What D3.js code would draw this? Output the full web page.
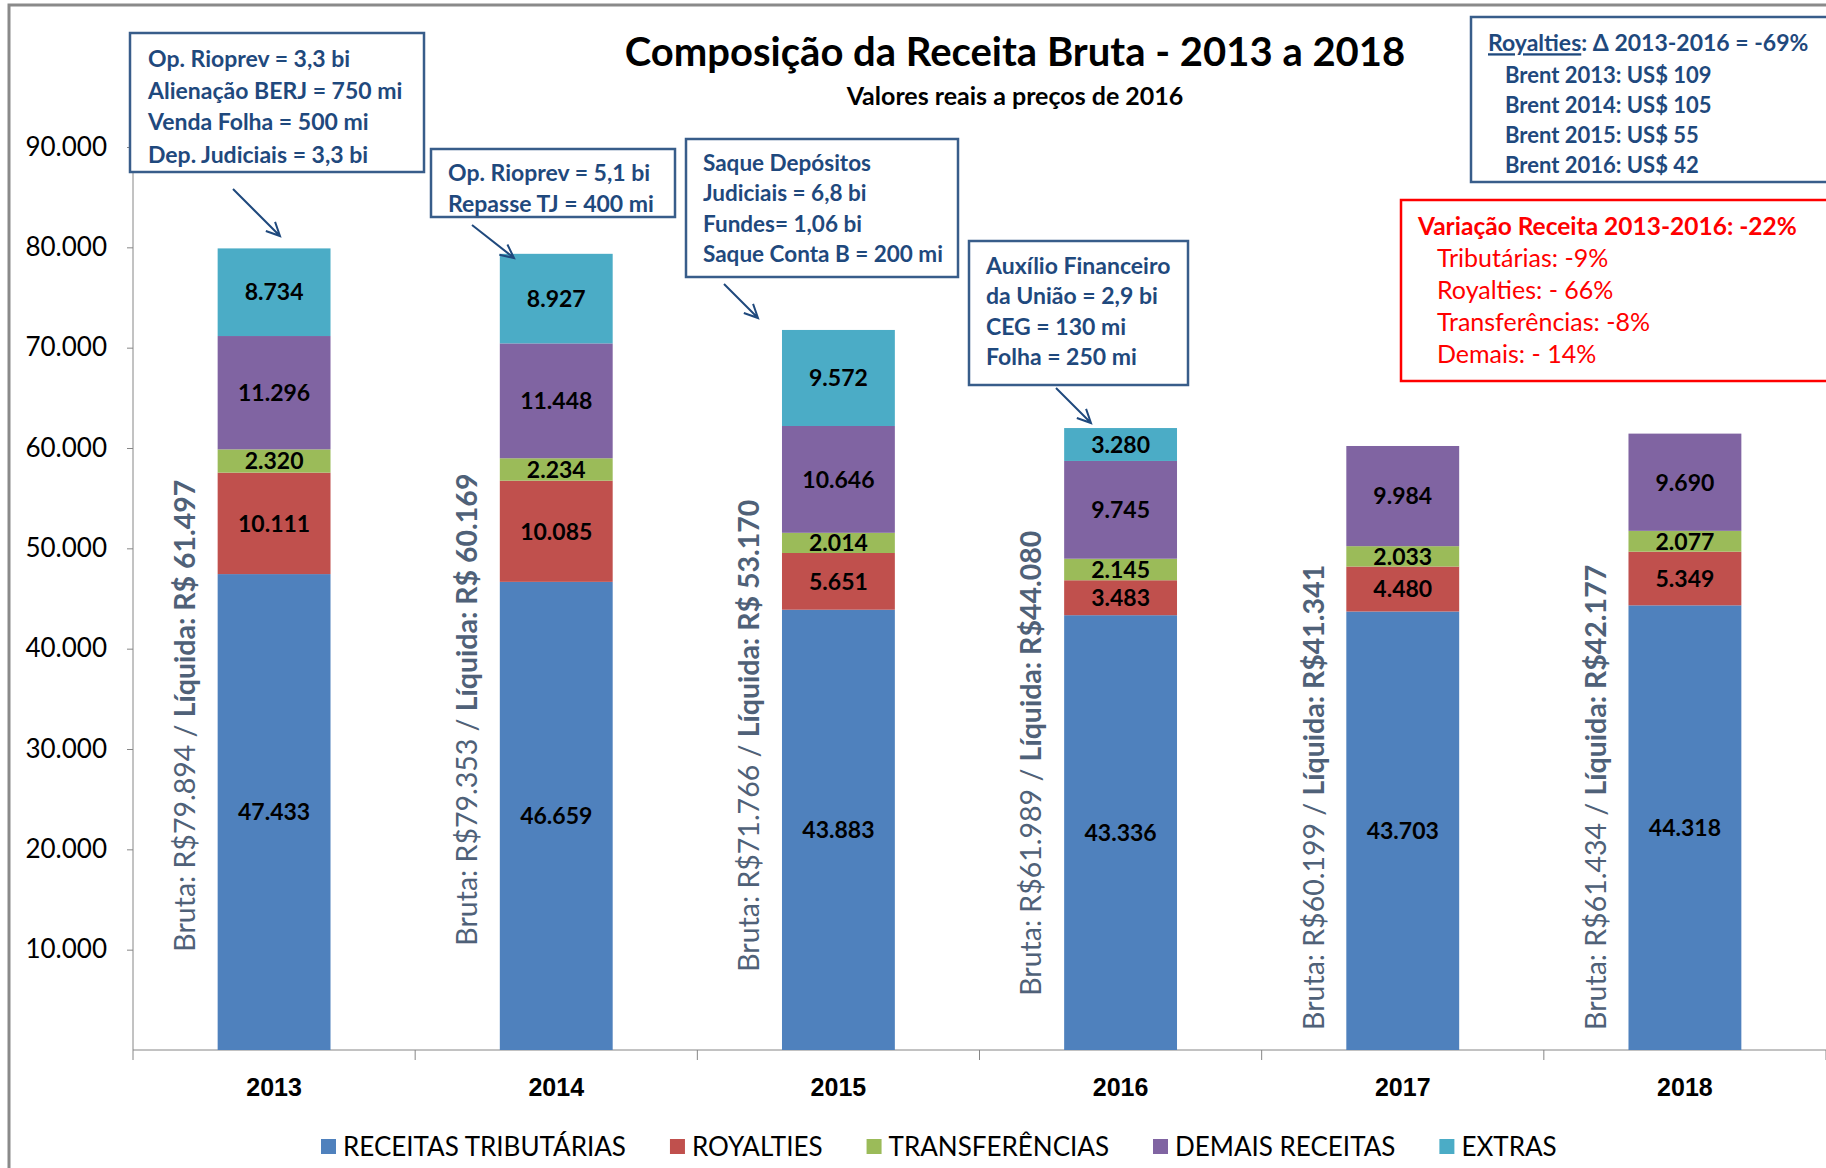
<!DOCTYPE html>
<html>
<head>
<meta charset="utf-8">
<script src="https://cdn.jsdelivr.net/npm/d3@7"></script>
<style>
  body { margin: 0; background: #fff; }
  svg { display: block; font-family: Lato, "Noto Sans", sans-serif; }
</style>
</head>
<body>
<div id="chart"></div>
<script>
// values (R$ milhões, 2016 prices)
var years = ["2013", "2014", "2015", "2016", "2017", "2018"];
var tributarias = [47433, 46659, 43883, 43336, 43703, 44318];
var royalties = [10111, 10085, 5651, 3483, 4480, 5349];
var transferencias = [2320, 2234, 2014, 2145, 2033, 2077];
var demais = [11296, 11448, 10646, 9745, 9984, 9690];
var extras = [8734, 8927, 9572, 3280, 0, 0];
var brutaText = ["R$79.894", "R$79.353", "R$71.766", "R$61.989", "R$60.199", "R$61.434"];
var liquidaText = ["R$ 61.497", "R$ 60.169", "R$ 53.170", "R$44.080", "R$41.341", "R$42.177"];
var labelBase = [9800, 10400, 7800, 5400, 2000, 2000]; // where the rotated text starts, in axis units
var yTicks = [10000, 20000, 30000, 40000, 50000, 60000, 70000, 80000, 90000];

var seriesNames = ["RECEITAS TRIBUTÁRIAS", "ROYALTIES", "TRANSFERÊNCIAS", "DEMAIS RECEITAS", "EXTRAS"];
var seriesColors = ["#4F81BD", "#C0504D", "#9BBB59", "#8064A2", "#4BACC6"];
var seriesValues = [tributarias, royalties, transferencias, demais, extras];

var W = 1826, H = 1168;
var navy = "#1F497D";

var locale = d3.formatLocale({decimal: ",", thousands: ".", grouping: [3], currency: ["R$", ""]});
var fmt = locale.format(",d");

var svg = d3.select("#chart").append("svg")
  .attr("width", W)
  .attr("height", H);

// frame
svg.append("path")
  .attr("d", "M9," + H + "V5H" + W)
  .attr("fill", "none")
  .attr("stroke", "#8a8a8a")
  .attr("stroke-width", 3);

var x = d3.scaleBand()
  .domain(years)
  .range([133, W])
  .paddingInner(0.6)
  .paddingOuter(0.3);

var y = d3.scaleLinear()
  .domain([0, 90000])
  .range([1050, 147]);

// stacked table
var table = years.map(function (yr, i) {
  var row = {year: yr};
  seriesNames.forEach(function (s, j) { row[s] = seriesValues[j][i]; });
  return row;
});
var stack = d3.stack().keys(seriesNames)(table);

// y axis
var yAxis = svg.append("g")
  .attr("transform", "translate(133,0)")
  .call(d3.axisLeft(y).tickValues(yTicks).tickSize(6).tickPadding(20).tickFormat(fmt));
yAxis.select(".domain").attr("stroke", "#868686").attr("d", "M0," + y(0) + "V" + y(90000));
yAxis.selectAll(".tick line").attr("stroke", "#868686");
yAxis.selectAll(".tick text")
  .attr("font-size", 26)
  .attr("fill", "#000")
  .attr("font-family", "Lato");

// x axis: labels centred in bands, ticks on band boundaries
var xAxis = svg.append("g")
  .attr("transform", "translate(0," + y(0) + ")")
  .call(d3.axisBottom(x).tickSize(0).tickPadding(28));
xAxis.select(".domain").attr("stroke", "#868686").attr("d", "M133,0H" + W);
xAxis.selectAll(".tick text")
  .attr("font-size", 25)
  .attr("font-weight", "bold")
  .attr("fill", "#000");
var bounds = d3.range(years.length + 1).map(function (i) { return 133 + i * x.step(); });
xAxis.selectAll("line.bound")
  .data(bounds)
  .enter().append("line")
  .attr("class", "bound")
  .attr("x1", function (d) { return d; })
  .attr("x2", function (d) { return d; })
  .attr("y1", 0)
  .attr("y2", 10)
  .attr("stroke", "#868686");

// bars
var layers = svg.selectAll("g.layer")
  .data(stack)
  .enter().append("g")
  .attr("class", "layer")
  .attr("fill", function (d, i) { return seriesColors[i]; });

layers.selectAll("rect")
  .data(function (d) { return d.filter(function (p) { return p[1] - p[0] > 0; }); })
  .enter().append("rect")
  .attr("x", function (d) { return x(d.data.year); })
  .attr("width", x.bandwidth())
  .attr("y", function (d) { return y(d[1]); })
  .attr("height", function (d) { return y(d[0]) - y(d[1]); });

layers.selectAll("text")
  .data(function (d) { return d.filter(function (p) { return p[1] - p[0] > 0; }); })
  .enter().append("text")
  .attr("x", function (d) { return x(d.data.year) + x.bandwidth() / 2; })
  .attr("y", function (d) { return (y(d[0]) + y(d[1])) / 2; })
  .attr("dy", "0.36em")
  .attr("text-anchor", "middle")
  .attr("font-size", 23)
  .attr("font-weight", "bold")
  .attr("fill", "#000")
  .text(function (d) { return fmt(d[1] - d[0]); });

// rotated Bruta / Líquida labels
years.forEach(function (yr, i) {
  var tx = x(yr) - 33, ty = y(labelBase[i]);
  var t = svg.append("text")
    .attr("transform", "translate(" + tx + "," + ty + ") rotate(-90)")
    .attr("dy", "0.36em")
    .attr("font-size", 28.5)
    .attr("fill", "#4F6178");
  t.append("tspan").text("Bruta: " + brutaText[i] + " / ");
  t.append("tspan").attr("font-weight", "bold").text("Líquida: " + liquidaText[i]);
});

// titles
svg.append("text")
  .attr("x", 1015).attr("y", 66)
  .attr("text-anchor", "middle")
  .attr("font-size", 40)
  .attr("font-weight", "bold")
  .text("Composição da Receita Bruta - 2013 a 2018");
svg.append("text")
  .attr("x", 1015).attr("y", 105)
  .attr("text-anchor", "middle")
  .attr("font-size", 25)
  .attr("font-weight", "bold")
  .text("Valores reais a preços de 2016");

// annotation boxes
function box(x0, y0, w, h, stroke) {
  svg.append("rect")
    .attr("x", x0).attr("y", y0).attr("width", w).attr("height", h)
    .attr("fill", "#fff").attr("stroke", stroke).attr("stroke-width", 2.5);
}
function lines(x0, ys, texts, opts) {
  texts.forEach(function (s, i) {
    svg.append("text")
      .attr("x", Array.isArray(x0) ? x0[i] : x0)
      .attr("y", ys[i])
      .attr("dy", "0.36em")
      .attr("font-size", Array.isArray(opts.size) ? opts.size[i] : (opts.size || 23))
      .attr("font-weight", opts.weight && opts.weight[i] ? opts.weight[i] : "bold")
      .attr("fill", opts.color)
      .text(s);
  });
}
function arrow(x1, y1, x2, y2) {
  var a = Math.atan2(y2 - y1, x2 - x1), L = 15, s = 0.45;
  svg.append("path")
    .attr("d", "M" + x1 + "," + y1 + "L" + x2 + "," + y2 +
      "M" + (x2 - L * Math.cos(a - s)) + "," + (y2 - L * Math.sin(a - s)) +
      "L" + x2 + "," + y2 +
      "L" + (x2 - L * Math.cos(a + s)) + "," + (y2 - L * Math.sin(a + s)))
    .attr("fill", "none")
    .attr("stroke", navy)
    .attr("stroke-width", 2);
}

box(130, 33, 294, 139, "#385D8A");
lines(148, [59, 91, 122, 155], ["Op. Rioprev = 3,3 bi", "Alienação BERJ = 750 mi", "Venda Folha = 500 mi", "Dep. Judiciais = 3,3 bi"], {color: navy});
arrow(233, 189, 280, 236);

box(431, 149, 244, 68, "#385D8A");
lines(448, [173, 204], ["Op. Rioprev = 5,1 bi", "Repasse TJ = 400 mi"], {color: navy});
arrow(472, 225, 514, 258);

box(686, 139, 272, 138, "#385D8A");
lines(703, [163, 193, 224, 254], ["Saque Depósitos", "Judiciais = 6,8 bi", "Fundes= 1,06 bi", "Saque Conta B = 200 mi"], {color: navy, size: 22.5});
arrow(724, 284, 758, 318);

box(969, 241, 219, 144, "#385D8A");
lines(986, [266, 296, 327, 357], ["Auxílio Financeiro", "da União = 2,9 bi", "CEG = 130 mi", "Folha = 250 mi"], {color: navy});
arrow(1056, 388, 1091, 423);

box(1471, 17, 380, 165, "#385D8A");
var rt = svg.append("text").attr("x", 1488).attr("y", 43).attr("dy", "0.36em")
  .attr("font-size", 23).attr("font-weight", "bold").attr("fill", navy);
rt.append("tspan").attr("text-decoration", "underline").text("Royalties");
rt.append("tspan").text(": Δ 2013-2016 = -69%");
lines(1505, [75, 105, 135, 165], ["Brent 2013: US$ 109", "Brent 2014: US$ 105", "Brent 2015: US$ 55", "Brent 2016: US$ 42"], {color: navy, size: 22});

box(1401, 200, 450, 181, "#FF0000");
lines([1418, 1437, 1437, 1437, 1437], [226, 258, 290, 322, 354],
  ["Variação Receita 2013-2016: -22%", "Tributárias: -9%", "Royalties: - 66%", "Transferências: -8%", "Demais: - 14%"],
  {color: "#FF0000", size: [24.5, 25, 25, 25, 25], weight: ["bold", "normal", "normal", "normal", "normal"]});

// legend
var lg = svg.append("g").attr("transform", "translate(321,1147)");
var lx = 0;
seriesNames.forEach(function (s, i) {
  lg.append("rect").attr("x", lx).attr("y", -8).attr("width", 15).attr("height", 15).attr("fill", seriesColors[i]);
  var t = lg.append("text").attr("x", lx + 22).attr("y", 0).attr("dy", "0.36em")
    .attr("font-size", 26).attr("fill", "#000").text(s);
  lx += 22 + t.node().getComputedTextLength() + 44;
});
</script>
</body>
</html>
